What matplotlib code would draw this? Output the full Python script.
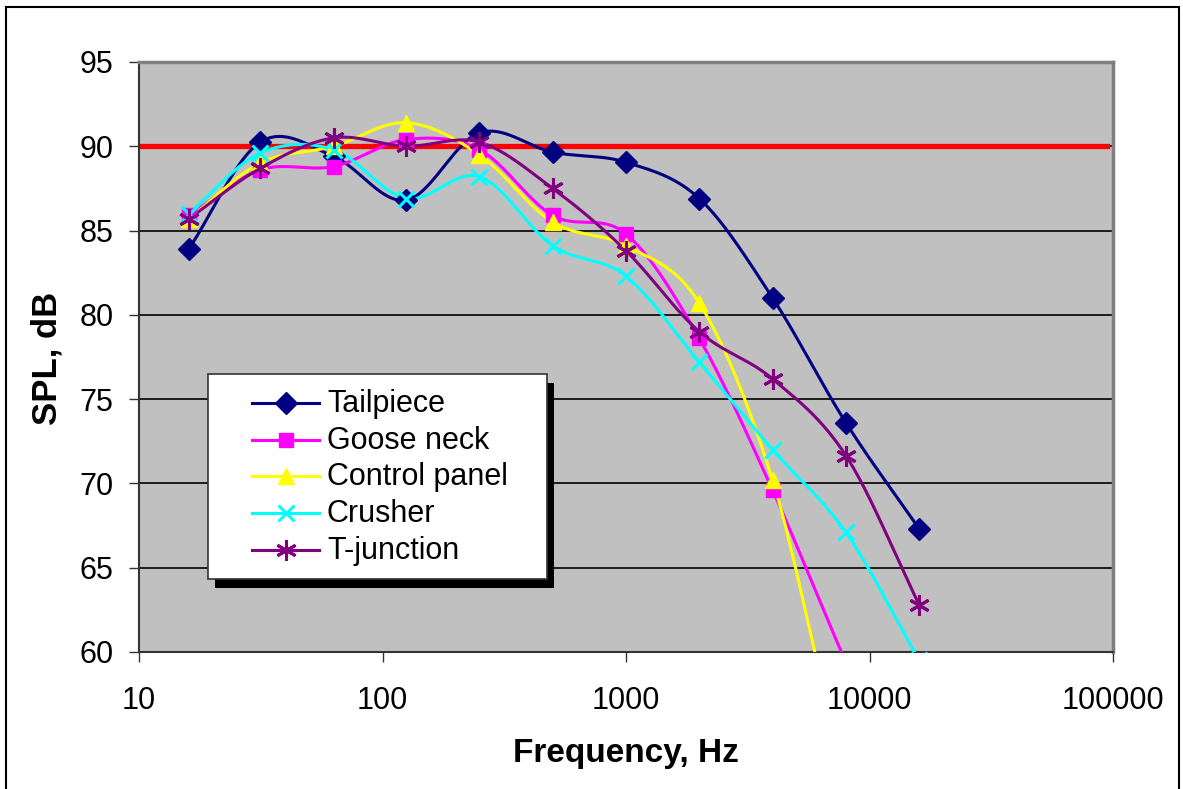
import numpy as np
import matplotlib
matplotlib.use("Agg")
import matplotlib.pyplot as plt
from matplotlib.patches import Rectangle
from matplotlib.lines import Line2D

# ---------------- data ----------------
freqs = [16, 31.5, 63, 125, 250, 500, 1000, 2000, 4000, 8000, 16000]
tailpiece = [83.9, 90.25, 89.4, 86.8, 90.8, 89.65, 89.05, 86.9, 81.0, 73.6, 67.3]
goose_neck = [85.9, 88.6, 88.8, 90.4, 89.8, 85.9, 84.8, 78.6, 69.6, 59.4, 50.0]
control_panel = [85.7, 89.0, 90.0, 91.4, 89.5, 85.5, 84.1, 80.7, 70.2, 53.0, 45.0]
crusher = [86.0, 89.6, 89.8, 86.9, 88.2, 84.1, 82.3, 77.2, 72.0, 67.1, 59.5]
t_junction = [85.7, 88.7, 90.5, 90.0, 90.25, 87.5, 83.8, 79.0, 76.2, 71.65, 62.8]
series_names = ["Tailpiece", "Goose neck", "Control panel", "Crusher", "T-junction"]
limit_level = 90
x_ticks = [10, 100, 1000, 10000, 100000]
y_ticks = [60, 65, 70, 75, 80, 85, 90, 95]

colors = ["#000080", "#FF00FF", "#FFFF00", "#00FFFF", "#800080"]
markers = ["D", "s", "^", "x", (6, 2, 0)]
msizes = [11.5, 10, 12, 12, 15]

W, H = 1183, 789
FONT = ["Liberation Sans", "DejaVu Sans"]
plt.rcParams["font.family"] = FONT
FS = 22


def catmull(xs, ys, n=40):
    lx = np.log10(np.asarray(xs, float))
    y = np.asarray(ys, float)
    px = np.concatenate([[2 * lx[0] - lx[1]], lx, [2 * lx[-1] - lx[-2]]])
    py = np.concatenate([[2 * y[0] - y[1]], y, [2 * y[-1] - y[-2]]])
    outx, outy = [], []
    for i in range(1, len(px) - 2):
        t = np.linspace(0, 1, n, endpoint=False)
        for arr, out in ((px, outx), (py, outy)):
            p0, p1, p2, p3 = arr[i - 1], arr[i], arr[i + 1], arr[i + 2]
            out.extend(0.5 * ((2 * p1) + (-p0 + p2) * t +
                              (2 * p0 - 5 * p1 + 4 * p2 - p3) * t ** 2 +
                              (-p0 + 3 * p1 - 3 * p2 + p3) * t ** 3))
    outx.append(lx[-1]); outy.append(y[-1])
    return 10 ** np.array(outx), np.array(outy)


fig = plt.figure(figsize=(W / 100, H / 100), dpi=100)


def fx(x):
    return x / W


def fy(y):
    return 1 - y / H


# outer frame
fig.patches.append(Rectangle((fx(6), fy(800)), fx(1179) - fx(6), fy(7) - fy(800),
                             transform=fig.transFigure, fill=False, ec="black", lw=1.5))

L, T, R, B = 139, 62, 1113, 652
ax = fig.add_axes([fx(L), fy(B), fx(R) - fx(L), fy(T) - fy(B)])
ax.set_facecolor("#C0C0C0")
ax.set_xscale("log")
ax.set_xlim(10, 100000)
ax.set_ylim(60, 95)
ax.set_xticks(x_ticks)
ax.set_xticklabels([str(v) for v in x_ticks])
ax.xaxis.set_minor_locator(matplotlib.ticker.NullLocator())
ax.set_yticks(y_ticks)
ax.tick_params(axis="both", direction="out", length=7.5, width=1, labelsize=FS, color="#333333")
ax.tick_params(axis="y", pad=11)
ax.tick_params(axis="x", pad=17)
ax.set_axisbelow(True)
ax.grid(axis="y", color="black", lw=1.2)
for s in ("top", "right"):
    ax.spines[s].set_color("#808080")
    ax.spines[s].set_linewidth(2.5)
for s in ("left", "bottom"):
    ax.spines[s].set_color("#333333")
    ax.spines[s].set_linewidth(1.5)

ax.axhline(limit_level, xmin=0, xmax=0.994, color="#FF0000", lw=3.8, zorder=2)

all_series = [tailpiece, goose_neck, control_panel, crusher, t_junction]
for vals, c, m, ms in zip(all_series, colors, markers, msizes):
    sx, sy = catmull(freqs, vals)
    ax.plot(sx, sy, color=c, lw=2.2, zorder=3)
    mew = 2.2 if m in ("x",) or isinstance(m, tuple) else 1
    ax.plot(freqs, vals, linestyle="none", marker=m, ms=ms, color=c,
            mec=c, mew=mew, zorder=4)

ax.set_xlabel("Frequency, Hz", fontsize=24, fontweight="bold", labelpad=16)
fig.text(fx(47), fy(358), "SPL, dB", rotation=90, fontsize=25, fontweight="bold",
         ha="center", va="center")

# legend (drawn manually to match Excel layout)
lx0, ly0, lx1, ly1 = 208, 374, 547, 579
fig.patches.append(Rectangle((fx(lx0 + 7), fy(ly1 + 9)), fx(lx1) - fx(lx0), fy(ly0) - fy(ly1),
                             transform=fig.transFigure, fc="black", ec="black", lw=0, zorder=5))
fig.patches.append(Rectangle((fx(lx0), fy(ly1)), fx(lx1) - fx(lx0), fy(ly0) - fy(ly1),
                             transform=fig.transFigure, fc="white", ec="#333333", lw=1.2, zorder=6))
row_y = [403, 440, 476, 513, 550]
for name, c, m, ms, ry in zip(series_names, colors, markers, msizes, row_y):
    mew = 2.2 if m in ("x",) or isinstance(m, tuple) else 1
    fig.lines.append(Line2D([fx(252), fx(319)], [fy(ry), fy(ry)], transform=fig.transFigure,
                            color=c, lw=2.2, zorder=7))
    fig.lines.append(Line2D([fx(285.5)], [fy(ry)], transform=fig.transFigure, marker=m,
                            ms=ms, color=c, mec=c, mew=mew, linestyle="none", zorder=8))
    fig.text(fx(327), fy(ry + 1), name, fontsize=FS, ha="left", va="center", zorder=9)

fig.savefig("out.png", dpi=100)
